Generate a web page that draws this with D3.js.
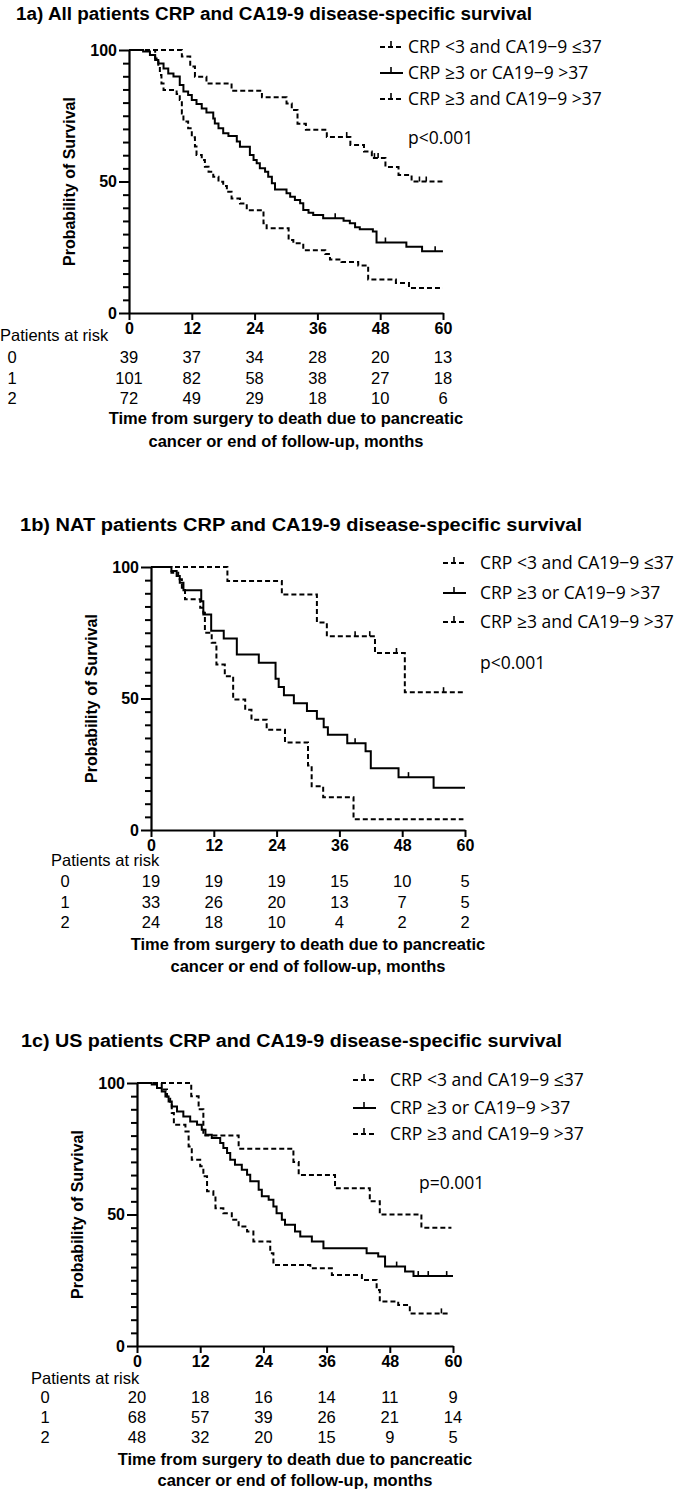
<!DOCTYPE html>
<html>
<head>
<meta charset="utf-8">
<script src="https://cdn.jsdelivr.net/npm/d3@7"></script>
<style>
  body { margin: 0; background: #fff; }
  svg { display: block; }
</style>
</head>
<body>
<svg width="685" height="1491"></svg>
<script>

// ---- data ----
let months = [0, 12, 24, 36, 48, 60];
let groupNames = ['CRP <3 and CA19\u22129 \u226437', 'CRP \u22653 or CA19\u22129 >37', 'CRP \u22653 and CA19\u22129 >37'];
let riskRowLabels = ['0', '1', '2'];

// [month, survival %] after each drop
let steps1a_0 = [[10.1,97.5],[11.7,93.7],[12.6,89.8],[14.8,87.3],[19.6,84.5],[25.4,82],[30.1,79.7],[31.1,77.2],[32.2,72],[33.8,69.7],[37.8,66.9],[42.3,63.9],[44.9,61.4],[46.4,58.9],[49,55.5],[51.5,52.5],[54,50]];
let steps1a_1 = [[2.7,99.4],[4.0,98.1],[5.0,96.2],[5.6,94.9],[6.6,93.0],[7.5,91.1],[8.5,89.9],[9.7,86.7],[10.4,84.2],[11.3,82.9],[12.0,81.0],[12.9,79.5],[13.9,77.8],[14.8,76.2],[16.1,74.0],[16.4,72.1],[17.1,70.2],[18.0,68.3],[19.0,67.3],[20.6,65.2],[21.2,63.2],[23.1,60.1],[23.8,58.2],[24.4,56.9],[25.0,55.0],[26.0,53.7],[26.6,51.8],[27.3,49.3],[27.9,47.0],[30.1,45.5],[30.8,44.2],[31.7,43.0],[32.7,41.7],[33.3,39.2],[34.3,38.1],[35.2,37.3],[37.1,36.0],[41.0,35.1],[42.2,34.1],[43.2,32.6],[44.1,31.8],[46.6,31.0],[47.3,26.8],[53,25.2],[56,23.5]];
let steps1a_2 = [[5.0,96.8],[5.6,93.6],[5.9,90.5],[6.2,87.3],[6.6,84.8],[9.1,83.3],[9.7,81],[10.1,75.9],[10.4,72.8],[11.3,70.2],[12.0,66.8],[12.6,63.3],[12.9,60.1],[13.9,58.2],[14.5,55.6],[15.2,53.7],[16.1,51.8],[17.1,49.9],[18.0,48.3],[18.7,46.1],[19.6,43.5],[21.2,41.6],[22.5,39.1],[25.7,34.1],[26.3,32.2],[30.5,27.8],[31.4,26.5],[33.3,23.9],[37.5,22.4],[38.4,20.3],[40.6,19.4],[43.8,18.1],[45.7,12.7],[51,11.4],[53.5,9.5]];
let cens1a_0 = [[41.6,66.9],[46.9,58.9],[47.6,58.9],[55.5,50],[56.8,50]];
let cens1a_1 = [[39.4,36.0],[49,26.8],[58.5,23.5]];
let cens1a_2 = [];
let risk1a_0 = [39, 37, 34, 28, 20, 13];
let risk1a_1 = [101, 82, 58, 38, 27, 18];
let risk1a_2 = [72, 49, 29, 18, 10, 6];

let steps1b_0 = [[14.6,94.7],[25.0,89.5],[31.7,78.9],[33.6,73.7],[42.8,67.3],[48.5,52.4]];
let steps1b_1 = [[3.9,98.5],[4.9,96.6],[5.5,94.0],[6.2,91.2],[9.6,87.0],[10.0,81.9],[11.5,75.8],[13.9,72.8],[16.4,66.7],[20.6,63.6],[23.8,57.5],[24.4,54.4],[25.4,51.2],[27.3,48.2],[29.8,45.2],[31.7,42.3],[33.0,39.1],[33.8,36.2],[37.5,33.0],[41.0,29.9],[42.0,23.5],[47.3,20.1],[54.0,16.1]];
let steps1b_2 = [[3.9,97.8],[5.2,95.3],[5.9,92.1],[6.5,87.7],[9.4,84.5],[10.0,82.6],[10.3,75.0],[11.6,71.2],[12.5,62.9],[14.1,58.5],[15.7,49.6],[18.0,45.7],[19.2,41.9],[22.1,38.1],[25.6,33.3],[30.0,24.5],[30.7,16.6],[32.9,12.5],[38.7,4.1]];
let cens1b_0 = [[39,73.7],[41.8,73.7],[46.9,67.3],[55.9,52.4]];
let cens1b_1 = [[39,33.0],[49.2,20.1]];
let cens1b_2 = [];
let risk1b_0 = [19, 19, 19, 15, 10, 5];
let risk1b_1 = [33, 26, 20, 13, 7, 5];
let risk1b_2 = [24, 18, 10, 4, 2, 2];

let steps1c_0 = [[10.3,95],[11.7,90],[12.6,80],[19.3,75],[29.7,70],[30.7,65],[37.6,60],[44.2,55],[46.1,50],[54.0,45]];
let steps1c_1 = [[2.8,99.4],[3.8,98.1],[4.7,96.8],[5.4,94.9],[6.0,93.0],[6.6,91.1],[7.6,89.2],[8.8,87.3],[10.1,85.4],[11.4,84.1],[12.3,82.2],[13.0,80.3],[14.2,79.1],[15.8,77.2],[16.4,75.3],[17.1,73.4],[17.7,70.8],[18.6,68.9],[19.9,67.0],[20.9,65.1],[21.5,62.6],[23.1,59.4],[23.7,56.9],[25.0,55.6],[25.9,53.0],[26.5,50.5],[27.5,48.0],[28.1,46.1],[30.0,43.5],[31.0,41.6],[33.2,39.7],[35.4,37.2],[43.6,35.3],[45.8,34.0],[47.1,30.2],[50.9,28.3],[52.5,26.6]];
let steps1c_2 = [[4.7,97.5],[5.7,94.9],[6.3,92.4],[6.6,88.6],[7.0,84.1],[9.2,81.6],[9.8,75.9],[10.4,70.8],[12.0,68.3],[12.6,64.5],[13.3,58.8],[14.5,56.9],[14.9,52.4],[16.4,50.5],[18.0,48.0],[19.3,45.4],[20.9,43.5],[22.1,39.7],[25.3,35.3],[25.9,30.8],[32.9,29.6],[37.0,27.0],[42.7,25.1],[45.5,21.3],[46.1,16.9],[49.6,15.6],[51.8,12.4]];
let cens1c_0 = [];
let cens1c_1 = [[49.3,30.2],[53.4,26.6],[55.3,26.6],[58.8,26.6]];
let cens1c_2 = [[57.8,12.4]];
let risk1c_0 = [20, 18, 16, 14, 11, 9];
let risk1c_1 = [68, 57, 39, 26, 21, 14];
let risk1c_2 = [48, 32, 20, 15, 9, 5];

let endMonths1a = [60, 60, 60];
let endMonths1b = [59.7, 60, 59.7];
let endMonths1c = [59.7, 60, 59.1];


// ---- layout of the three panels ----
let panels = [
  { title: '1a) All patients CRP and CA19-9 disease-specific survival', titleX: 16, titleY: 20, titleW: 516,
    x0: 129, x1: 443, yTop: 50, yBot: 313,
    legX: 380, legTextX: 408, legY: [47, 73, 99], pText: 'p<0.001', pX: 408, pY: 138,
    riskX: 0, riskY: 335, rowX: 12, rowY: [357, 378, 398], xTitleY: [418, 441],
    steps: [steps1a_0, steps1a_1, steps1a_2], cens: [cens1a_0, cens1a_1, cens1a_2],
    risk: [risk1a_0, risk1a_1, risk1a_2], ends: endMonths1a },
  { title: '1b) NAT patients CRP and CA19-9 disease-specific survival', titleX: 20, titleY: 531, titleW: 562,
    x0: 151, x1: 465, yTop: 567, yBot: 830,
    legX: 443, legTextX: 480, legY: [563, 593, 622], pText: 'p<0.001', pX: 480, pY: 663,
    riskX: 51, riskY: 860, rowX: 65, rowY: [881, 902, 922], xTitleY: [944, 966],
    steps: [steps1b_0, steps1b_1, steps1b_2], cens: [cens1b_0, cens1b_1, cens1b_2],
    risk: [risk1b_0, risk1b_1, risk1b_2], ends: endMonths1b },
  { title: '1c) US patients CRP and CA19-9 disease-specific survival', titleX: 21, titleY: 1047, titleW: 541,
    x0: 137, x1: 453, yTop: 1083, yBot: 1346,
    legX: 353, legTextX: 390, legY: [1080, 1108, 1134], pText: 'p=0.001', pX: 419, pY: 1183,
    riskX: 31, riskY: 1378, rowX: 45, rowY: [1397, 1417, 1437], xTitleY: [1459, 1480],
    steps: [steps1c_0, steps1c_1, steps1c_2], cens: [cens1c_0, cens1c_1, cens1c_2],
    risk: [risk1c_0, risk1c_1, risk1c_2], ends: endMonths1c }
];

let svg = d3.select('svg');
let boldFont = 'Liberation Sans, Arial, sans-serif';
let legendFont = 'Open Sans, sans-serif';
let dashes = ['5,3', null, '5,3'];


function drawPanel(p) {
  let x = d3.scaleLinear().domain([0, 60]).range([p.x0, p.x1]);
  let y = d3.scaleLinear().domain([0, 100]).range([p.yBot, p.yTop]);
  let g = svg.append('g');

  // title
  g.append('text')
    .attr('x', p.titleX).attr('y', p.titleY)
    .attr('font-family', boldFont).attr('font-weight', 'bold').attr('font-size', 18)
    .attr('textLength', p.titleW).attr('lengthAdjust', 'spacingAndGlyphs')
    .text(p.title);

  // y axis, minor tick every 5
  let gy = g.append('g')
    .attr('transform', 'translate(' + p.x0 + ',0)')
    .call(d3.axisLeft(y).tickValues(d3.range(0, 101, 5)).tickSizeOuter(0).tickPadding(4)
      .tickFormat(d => d % 50 === 0 ? d : ''));
  gy.selectAll('.tick line').attr('x2', d => d % 50 === 0 ? -10 : -6);
  gy.selectAll('.tick text').attr('x', -12);

  // x axis
  let gx = g.append('g')
    .attr('transform', 'translate(0,' + p.yBot + ')')
    .call(d3.axisBottom(x).tickValues(months).tickSize(7).tickSizeOuter(0).tickPadding(3));

  g.selectAll('.domain').attr('stroke-width', 2.2).attr('stroke', '#000');
  g.selectAll('.tick line').attr('stroke-width', 2).attr('stroke', '#000');
  g.selectAll('.tick text')
    .attr('font-family', boldFont).attr('font-weight', 'bold').attr('font-size', 16).attr('fill', '#000');

  // y label
  g.append('text')
    .attr('transform', 'translate(' + (p.x0 - 54) + ',' + ((p.yTop + p.yBot) / 2) + ') rotate(-90)')
    .attr('text-anchor', 'middle')
    .attr('font-family', boldFont).attr('font-weight', 'bold').attr('font-size', 16)
    .text('Probability of Survival');

  // KM curves
  let line = d3.line()
    .x(d => x(d[0]))
    .y(d => y(d[1]))
    .curve(d3.curveStepAfter);

  p.steps.forEach(function (s, i) {
    let pts = [[0, 100]].concat(s);
    pts.push([p.ends[i], s[s.length - 1][1]]);
    g.append('path')
      .attr('d', line(pts))
      .attr('fill', 'none')
      .attr('stroke', '#000')
      .attr('stroke-width', 2)
      .attr('stroke-dasharray', dashes[i]);

    g.selectAll(null)
      .data(p.cens[i])
      .enter().append('line')
      .attr('x1', d => x(d[0])).attr('x2', d => x(d[0]))
      .attr('y1', d => y(d[1])).attr('y2', d => y(d[1]) - 5)
      .attr('stroke', '#000').attr('stroke-width', 1.6);
  });

  // legend
  groupNames.forEach(function (name, i) {
    let ly = p.legY[i];
    g.append('line')
      .attr('x1', p.legX).attr('x2', p.legX + 23)
      .attr('y1', ly).attr('y2', ly)
      .attr('stroke', '#000').attr('stroke-width', 2)
      .attr('stroke-dasharray', dashes[i]);
    g.append('line')
      .attr('x1', p.legX + 11).attr('x2', p.legX + 11)
      .attr('y1', ly).attr('y2', ly - 6)
      .attr('stroke', '#000').attr('stroke-width', 1.6);
    g.append('text')
      .attr('x', p.legTextX).attr('y', ly)
      .attr('dy', '0.35em')
      .attr('font-family', legendFont).attr('font-size', 17.5)
      .text(name);
  });

  g.append('text')
    .attr('x', p.pX).attr('y', p.pY).attr('dy', '0.35em')
    .attr('font-family', legendFont).attr('font-size', 17.5)
    .text(p.pText);

  // patients at risk table
  g.append('text')
    .attr('x', p.riskX).attr('y', p.riskY).attr('dy', '0.35em')
    .attr('font-family', boldFont).attr('font-size', 16.5)
    .text('Patients at risk');

  p.risk.forEach(function (row, i) {
    g.append('text')
      .attr('x', p.rowX).attr('y', p.rowY[i]).attr('dy', '0.35em')
      .attr('text-anchor', 'middle')
      .attr('font-family', boldFont).attr('font-size', 16.5)
      .text(riskRowLabels[i]);
    g.selectAll(null)
      .data(row)
      .enter().append('text')
      .attr('x', (d, j) => x(months[j]))
      .attr('y', p.rowY[i]).attr('dy', '0.35em')
      .attr('text-anchor', 'middle')
      .attr('font-family', boldFont).attr('font-size', 16.5)
      .text(d => d);
  });

  // x title
  let xt = ['Time from surgery to death due to pancreatic', 'cancer or end of follow-up, months'];
  xt.forEach(function (t, i) {
    g.append('text')
      .attr('x', (p.x0 + p.x1) / 2).attr('y', p.xTitleY[i]).attr('dy', '0.35em')
      .attr('text-anchor', 'middle')
      .attr('font-family', boldFont).attr('font-weight', 'bold').attr('font-size', 16.5)
      .text(t);
  });
}

panels.forEach(drawPanel);

</script>
</body>
</html>
